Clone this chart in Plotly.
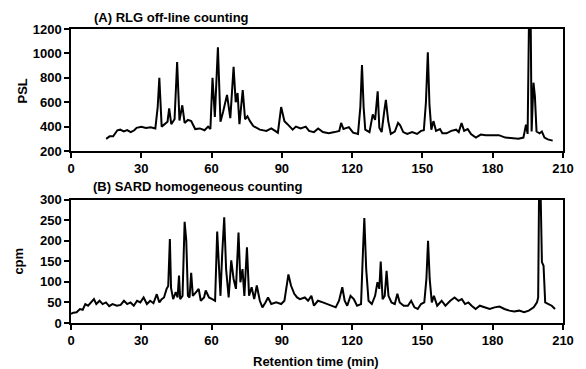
import plotly.graph_objects as go

# Panel A: RLG off-line counting (PSL)
time_a = [15, 16.5, 18, 19.8, 21, 22.5, 24, 25.5, 27, 28, 30, 32, 34, 36, 37, 37.7, 38.7, 40, 41.2, 41.9,
          42.8, 44.2, 45.3, 46.3, 47.5, 48.5, 49.9, 51.3, 53, 55, 57, 58.5, 59.5, 60.4, 61.4, 62.7, 63.8,
          64.9, 66.6, 68, 69.4, 70.3, 71.1, 71.9, 73.3, 74.3, 75.3, 76.4, 77.8, 80.6, 83.4, 85.5, 88.3,
          89.7, 91.1, 92.4, 94.6, 96, 98, 100.2, 101.6, 103.7, 105.5, 107.5, 110, 112.5, 114.5, 115.3,
          116.3, 117.7, 118.6, 120.4, 122.5, 123.5, 124.2, 124.9, 125.6, 127.4, 128.8, 129.8, 130.9,
          131.6, 132.6, 133.7, 134.4, 135.4, 136.5, 138.2, 139.6, 140.5, 141.8, 143.5, 145.6, 147.7,
          149.4, 150.6, 151.5, 152.3, 153, 153.8, 154.7, 155.8, 157.5, 158.5, 160.3, 162.3, 164.4,
          165.5, 166.7, 167.8, 169.3, 170.7, 172.8, 174.9, 177, 179.8, 182.6, 185.4, 188.2, 191, 193.1,
          194.2, 194.9, 195.5, 196.2, 196.6, 197.4, 198, 198.7, 200, 201, 202.1, 203.5, 205.6]
psl_a = [300, 320, 320, 370, 375, 360, 372, 355, 370, 390, 398, 388, 395, 385, 560, 800, 400, 420, 440, 550,
         420, 460, 930, 450, 575, 430, 455, 445, 380, 385, 370, 400, 380, 800, 480, 1050, 440,
         520, 660, 470, 890, 600, 675, 420, 700, 460, 485, 445, 405, 375, 365, 385, 350,
         560, 445, 420, 375, 400, 385, 400, 365, 355, 385, 355, 345, 355, 365, 430,
         380, 390, 395, 350, 340, 560, 905, 560, 375, 355, 500, 455, 690,
         390, 355, 525, 620, 445, 340, 360, 430, 410, 355, 340, 355, 340,
         365, 370, 600, 1010, 580, 375, 445, 365, 380, 345, 345, 365, 375,
         355, 430, 365, 380, 340, 310, 335, 330, 330, 330, 310, 305, 300, 310,
         415, 340, 1300, 1300, 360, 760, 650, 360, 345, 360, 310, 295, 285]

# Panel B: SARD homogeneous counting (cpm)
time_b = [0, 1, 2.4, 3.8, 5, 6.1, 7.3, 8.7, 9.8, 10.8, 12.2, 13.5, 14.9, 16.3, 17.7, 19.6, 21.2, 22.6, 24,
          25.4, 26.8, 28.2, 29.6, 31, 32.4, 33.8, 35.2, 36.6, 37.7, 38.7, 39.7, 40.8, 41.5, 42.2, 42.7,
          43.6, 44.7, 45.5, 46.1, 46.6, 47.6, 48.5, 49.2, 49.9, 50.6, 51.3, 52, 53.4, 54.5, 55.4, 56.8,
          57.5, 58.9, 60.3, 61.5, 62.4, 63.1, 63.8, 64.5, 65.4, 66.2, 67.3, 68.4, 69.4, 70.4, 71.5, 72.3,
          73.2, 74, 75.1, 76, 77.1, 78.2, 79.3, 80.6, 81.7, 83, 84.1, 85.5, 87.6, 89.7, 91.1, 92.8, 93.9,
          95.3, 96.5, 97.7, 99.8, 101.2, 102.6, 103.7, 105.4, 107.5, 109.6, 111.6, 113, 114.4, 115.8,
          116.8, 117.9, 119.3, 120.7, 122.1, 123.8, 124.6, 125.2, 126, 127, 128.4, 129.8, 130.8, 131.6,
          132.2, 133, 133.9, 134.7, 135.5, 136.8, 138.2, 139.3, 140.3, 142, 143.8, 145.2, 146.6, 148,
          149.4, 150.8, 151.7, 152.4, 153.1, 154, 154.9, 156.3, 158.2, 159.8, 161.9, 163.7, 165.4,
          166.8, 168.2, 169.6, 171, 172.7, 174.5, 176.6, 178.7, 180.8, 182.9, 185, 187.1, 189.2, 191.3,
          193.4, 195.4, 197.5, 198.9, 199.4, 199.8, 200.4, 201, 201.7, 202.4, 203.8, 205.2, 206.6]
cpm_b = [22, 25, 26, 34, 32, 46, 42, 50, 58, 46, 54, 46, 50, 41, 46, 42, 44, 54, 46,
         50, 42, 54, 50, 62, 46, 54, 48, 70, 50, 58, 62, 83, 90, 204, 85,
         58, 75, 62, 115, 58, 66, 246, 200, 66, 62, 122, 66, 75, 83, 54, 62,
         79, 62, 58, 54, 222, 131, 66, 164, 257, 131, 62, 152, 107, 83, 220, 99,
         131, 66, 184, 66, 87, 58, 91, 54, 38, 50, 62, 46, 50, 46, 54, 118, 91,
         71, 62, 58, 62, 54, 66, 42, 54, 50, 46, 42, 38, 54, 87,
         54, 42, 66, 58, 42, 46, 172, 255, 131, 54, 46, 66, 99, 83,
         149, 58, 66, 127, 66, 50, 46, 71, 50, 42, 42, 54, 38, 34,
         46, 50, 107, 200, 107, 50, 66, 42, 54, 42, 54, 62, 54,
         58, 46, 50, 42, 34, 42, 38, 34, 38, 40, 34, 30, 28, 30,
         26, 30, 38, 50, 62, 330, 330, 148, 139, 50, 46, 42, 34]

x_ticks = [0, 30, 60, 90, 120, 150, 180, 210]
psl_ticks = [200, 400, 600, 800, 1000, 1200]
cpm_ticks = [0, 50, 100, 150, 200, 250, 300]

FONT = "Liberation Sans, Arial, sans-serif"
tickfont = dict(family=FONT, size=13, color="black", weight="bold")
labfont = dict(family=FONT, size=13, color="black", weight="bold")

fig = go.Figure()
fig.add_trace(go.Scatter(x=time_a, y=psl_a, mode="lines", line=dict(color="black", width=2),
                         xaxis="x", yaxis="y", showlegend=False))
fig.add_trace(go.Scatter(x=time_b, y=cpm_b, mode="lines", line=dict(color="black", width=2),
                         xaxis="x2", yaxis="y2", showlegend=False))

axis_common = dict(showgrid=False, zeroline=False, showline=True, linecolor="black", linewidth=1.5,
                   mirror=True, ticks="outside", ticklen=5, tickwidth=1.5, tickcolor="black",
                   tickfont=tickfont)

fig.update_layout(
    width=586, height=369,
    margin=dict(l=71, r=14, t=29, b=46),
    paper_bgcolor="white", plot_bgcolor="white",
    xaxis=dict(domain=[0, 1], range=[0, 210], tickvals=x_ticks, anchor="y", **axis_common),
    yaxis=dict(domain=[0.585, 1], range=[200, 1200], tickvals=psl_ticks, anchor="x", **axis_common),
    xaxis2=dict(domain=[0, 1], range=[0, 210], tickvals=x_ticks, anchor="y2", **axis_common),
    yaxis2=dict(domain=[0, 0.42], range=[0, 300], tickvals=cpm_ticks, anchor="x2", **axis_common),
    annotations=[
        dict(text="(A) RLG off-line counting", xref="paper", yref="paper", x=0.042, y=1.04,
             xanchor="left", yanchor="middle", showarrow=False, font=labfont),
        dict(text="(B) SARD homogeneous counting", xref="paper", yref="paper", x=0.04, y=0.463,
             xanchor="left", yanchor="middle", showarrow=False, font=labfont),
        dict(text="PSL", xref="paper", yref="paper", x=-0.098, y=0.79, textangle=-90,
             xanchor="center", yanchor="middle", showarrow=False, font=labfont),
        dict(text="cpm", xref="paper", yref="paper", x=-0.107, y=0.21, textangle=-90,
             xanchor="center", yanchor="middle", showarrow=False, font=labfont),
        dict(text="Retention time (min)", xref="paper", yref="paper", x=0.497, y=-0.13,
             xanchor="center", yanchor="middle", showarrow=False, font=labfont),
    ],
)

fig.write_html("out.html", config={"displayModeBar": False},
               post_script="document.body.style.margin='0';document.body.style.overflow='hidden';")
